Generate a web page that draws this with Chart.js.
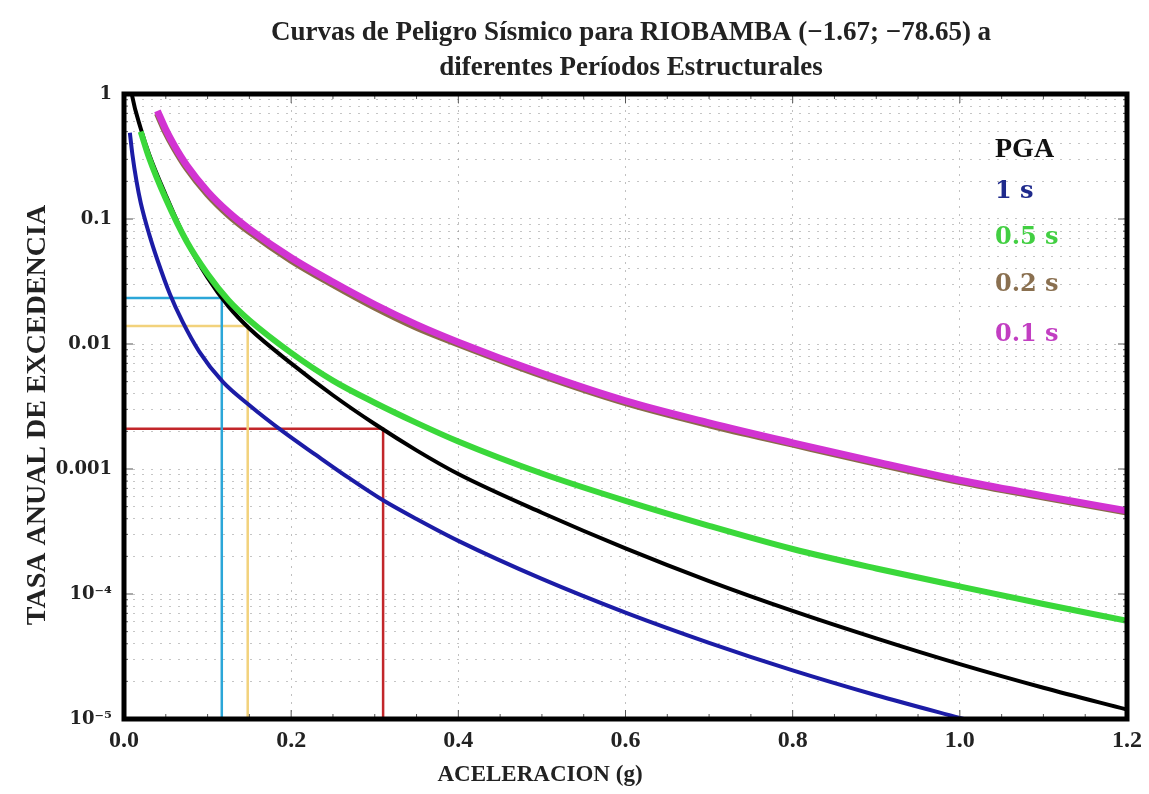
<!DOCTYPE html>
<html lang="es">
<head>
<meta charset="utf-8">
<title>Curvas de Peligro Sísmico - Riobamba</title>
<script src="https://cdn.jsdelivr.net/npm/chart.js@4.4.1/dist/chart.umd.min.js"></script>
<style>
  html, body { margin: 0; padding: 0; background: #ffffff; }
  #wrap { width: 1149px; height: 794px; }
</style>
</head>
<body>
<div id="wrap"><canvas id="hazardChart" width="1149" height="794"></canvas></div>
<script>
// Curve data (acceleration in g, annual exceedance rate)
const accelPGA = [0.005, 0.01, 0.02, 0.03, 0.05, 0.075, 0.1, 0.125, 0.15, 0.2, 0.25, 0.3, 0.35, 0.4, 0.5, 0.6, 0.7, 0.8, 0.9, 1.0, 1.1, 1.2];
const ratePGA = [1.6, 0.95, 0.53, 0.33, 0.155, 0.066, 0.034, 0.020, 0.0133, 0.0070, 0.00389, 0.00229, 0.00141, 0.000912, 0.000447, 0.000232, 0.000127, 0.0000733, 0.0000442, 0.0000275, 0.0000178, 0.0000119];

const accel1s = [0.007, 0.01, 0.015, 0.02, 0.03, 0.04, 0.055, 0.07, 0.09, 0.118, 0.15, 0.19, 0.23, 0.27, 0.31, 0.35, 0.4, 0.5, 0.6, 0.7, 0.8, 0.9, 1.0, 1.05];
const rate1s = [0.49, 0.33, 0.20, 0.135, 0.076, 0.047, 0.025, 0.0151, 0.0087, 0.0050, 0.00324, 0.0020, 0.00129, 0.00084, 0.000562, 0.000398, 0.000266, 0.000132, 0.000071, 0.0000407, 0.0000245, 0.0000155, 0.0000102, 0.0000083];

const accel05s = [0.02, 0.03, 0.05, 0.075, 0.1, 0.125, 0.15, 0.2, 0.25, 0.3, 0.35, 0.4, 0.5, 0.6, 0.7, 0.8, 0.9, 1.0, 1.1, 1.2];
const rate05s = [0.50, 0.309, 0.145, 0.066, 0.0363, 0.0224, 0.0155, 0.0085, 0.0051, 0.00339, 0.00234, 0.00166, 0.00092, 0.000556, 0.000351, 0.000229, 0.00016, 0.000115, 0.0000832, 0.000061];

const accelShort = [0.04, 0.05, 0.06, 0.075, 0.1, 0.125, 0.15, 0.2, 0.25, 0.3, 0.35, 0.4, 0.5, 0.6, 0.7, 0.8, 0.9, 1.0, 1.1, 1.2];
const rate02s = [0.70, 0.495, 0.372, 0.257, 0.158, 0.108, 0.0794, 0.0468, 0.0299, 0.0197, 0.0136, 0.0100, 0.00562, 0.00339, 0.00226, 0.00158, 0.00111, 0.000794, 0.000596, 0.000452];
const rate01s = [0.733, 0.519, 0.389, 0.269, 0.166, 0.1135, 0.0832, 0.049, 0.0313, 0.0207, 0.0143, 0.01035, 0.00582, 0.00351, 0.00234, 0.00162, 0.00114, 0.000813, 0.00061, 0.000462];

// Return-period guide lines: [acceleration, rate]
const guideCyan = [0.117, 0.0233];
const guideYellow = [0.148, 0.0139];
const guideRed = [0.31, 0.0021];

// Axis ticks
const xTickValues = [0.0, 0.2, 0.4, 0.6, 0.8, 1.0, 1.2];
const yDecades = [1e-5, 1e-4, 1e-3, 1e-2, 1e-1, 1];
const yDecadeLabels = ['10⁻⁵', '10⁻⁴', '0.001', '0.01', '0.1', '1'];

document.addEventListener('DOMContentLoaded', function () {
  const serif = "'Liberation Serif', 'Times New Roman', serif";
  const wideSerif = "'DejaVu Serif', serif";
  const yMin = 1e-5;

  function toPoints(xs, ys) {
    return xs.map((x, i) => ({ x: x, y: ys[i] }));
  }

  function guidePoints(g) {
    return [{ x: 0, y: g[1] }, { x: g[0], y: g[1] }, { x: g[0], y: yMin }];
  }

  // all 1..9 x 10^k values for the log grid
  const yGridValues = [];
  yDecades.forEach(d => {
    if (d >= 1) { yGridValues.push(d); return; }
    for (let m = 1; m <= 9; m++) yGridValues.push(+(m * d).toPrecision(3));
  });

  function curve(label, data, color, width) {
    return {
      label: label,
      data: data,
      borderColor: color,
      backgroundColor: color,
      borderWidth: width,
      pointRadius: 0,
      cubicInterpolationMode: 'monotone',
      fill: false
    };
  }

  function guide(label, g, color) {
    return {
      label: label,
      data: guidePoints(g),
      borderColor: color,
      borderWidth: 2.5,
      pointRadius: 0,
      tension: 0,
      fill: false
    };
  }

  // Texts, frame and inner ticks
  const decorPlugin = {
    id: 'decor',
    beforeDraw(chart) {
      const ctx = chart.ctx;
      ctx.save();
      ctx.fillStyle = '#ffffff';
      ctx.fillRect(0, 0, chart.width, chart.height);
      ctx.restore();
    },
    afterDatasetsDraw(chart) {
      const ctx = chart.ctx;
      const a = chart.chartArea;
      const xs = chart.scales.x;
      const ys = chart.scales.y;
      ctx.save();

      // inner ticks
      ctx.strokeStyle = '#555';
      ctx.lineWidth = 1;
      ctx.beginPath();
      for (let i = 0; i <= 24; i++) {
        const px = xs.getPixelForValue(i * 0.05);
        const len = i % 4 === 0 ? 9 : 5;
        ctx.moveTo(px, a.bottom); ctx.lineTo(px, a.bottom - len);
        ctx.moveTo(px, a.top); ctx.lineTo(px, a.top + len);
      }
      yGridValues.forEach(v => {
        const py = ys.getPixelForValue(v);
        const len = yDecades.includes(v) ? 9 : 4;
        ctx.moveTo(a.left, py); ctx.lineTo(a.left + len, py);
        ctx.moveTo(a.right, py); ctx.lineTo(a.right - len, py);
      });
      ctx.stroke();

      // frame
      ctx.strokeStyle = '#000';
      ctx.lineWidth = 5;
      ctx.strokeRect(a.left, a.top, a.right - a.left, a.bottom - a.top);

      // legend-like labels inside the plot
      const labels = [
        { text: 'PGA', color: '#111111', y: 0.36, font: 'bold 28px ' + serif },
        { text: '1 s', color: '#1f2a8c', y: 0.164, font: 'bold 24px ' + wideSerif },
        { text: '0.5 s', color: '#42cf42', y: 0.0705, font: 'bold 24px ' + wideSerif },
        { text: '0.2 s', color: '#8a7050', y: 0.0296, font: 'bold 24px ' + wideSerif },
        { text: '0.1 s', color: '#c23ec2', y: 0.0118, font: 'bold 24px ' + wideSerif }
      ];
      ctx.textBaseline = 'middle';
      ctx.textAlign = 'left';
      labels.forEach(l => {
        ctx.fillStyle = l.color;
        ctx.font = l.font;
        ctx.fillText(l.text, 995, ys.getPixelForValue(l.y));
      });

      // title
      ctx.fillStyle = '#222';
      ctx.textAlign = 'center';
      ctx.font = 'bold 27px ' + serif;
      ctx.fillText('Curvas de Peligro Sísmico para RIOBAMBA (−1.67; −78.65) a', 631, 33);
      ctx.fillText('diferentes Períodos Estructurales', 631, 68);

      // axis titles
      ctx.font = 'bold 23px ' + serif;
      ctx.fillText('ACELERACION (g)', 540, 775);
      ctx.font = 'bold 28px ' + serif;
      ctx.translate(38, 415);
      ctx.rotate(-Math.PI / 2);
      ctx.fillText('TASA ANUAL DE EXCEDENCIA', 0, 0);
      ctx.restore();
    }
  };

  const ctx = document.getElementById('hazardChart');
  new Chart(ctx, {
    type: 'line',
    data: {
      datasets: [
        curve('0.1 s', toPoints(accelShort, rate01s), '#d233d2', 7),
        curve('0.5 s', toPoints(accel05s, rate05s), '#3ad83a', 6),
        curve('0.2 s', toPoints(accelShort, rate02s), '#8b6b4a', 7),
        curve('PGA', toPoints(accelPGA, ratePGA), '#000000', 4),
        curve('1 s', toPoints(accel1s, rate1s), '#1c1ca6', 4),
        guide('guia 1', guideCyan, '#2ba6d8'),
        guide('guia 2', guideYellow, '#f2d27c'),
        guide('guia 3', guideRed, '#c2262a')
      ]
    },
    options: {
      responsive: false,
      animation: false,
      layout: { padding: { top: 94, right: 18, left: 0, bottom: 0 } },
      plugins: {
        legend: { display: false },
        tooltip: { enabled: false },
        title: { display: false }
      },
      scales: {
        x: {
          type: 'linear',
          min: 0,
          max: 1.2,
          afterFit: scale => { scale.height = 75; },
          afterBuildTicks: scale => { scale.ticks = xTickValues.map(v => ({ value: v })); },
          grid: {
            drawTicks: false,
            color: 'rgba(140,140,140,0.55)',
            lineWidth: 1
          },
          border: { display: false, dash: [2, 6] },
          ticks: {
            padding: 7,
            color: '#222',
            font: { family: serif, size: 24, weight: 'bold' },
            callback: v => v.toFixed(1)
          }
        },
        y: {
          type: 'logarithmic',
          min: yMin,
          max: 1,
          afterFit: scale => { scale.width = 124; },
          afterBuildTicks: scale => { scale.ticks = yGridValues.map(v => ({ value: v })); },
          grid: {
            drawTicks: false,
            color: 'rgba(140,140,140,0.5)',
            lineWidth: 1
          },
          border: { display: false, dash: [2, 7] },
          ticks: {
            autoSkip: false,
            padding: 12,
            color: '#222',
            font: { family: wideSerif, size: 18, weight: 'bold' },
            callback: function (v) {
              const i = yDecades.findIndex(d => Math.abs(d - v) / d < 1e-6);
              return i >= 0 ? yDecadeLabels[i] : '';
            }
          }
        }
      }
    },
    plugins: [decorPlugin]
  });
});
</script>
</body>
</html>
